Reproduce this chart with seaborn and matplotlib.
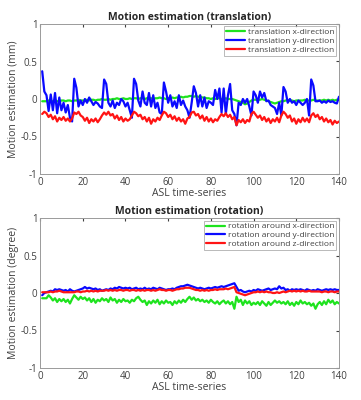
import numpy as np
import pandas as pd
import matplotlib
matplotlib.use("Agg")
import matplotlib.pyplot as plt
import seaborn as sns

# ASL time-series index
frames = list(range(1, 141))

trans_x = [
    -0.03, -0.03, -0.03, -0.02, -0.03, -0.03, -0.02, -0.03, -0.03, -0.02,
    -0.02, -0.03, -0.02, -0.02, -0.03, -0.02, -0.02, -0.01, -0.02, -0.02,
    -0.02, -0.01, -0.02, -0.01, -0.01, -0.02, -0.01, -0.01, 0.00, -0.01,
    -0.01, 0.00, -0.01, 0.00, 0.00, 0.01, 0.00, 0.00, 0.01, 0.00,
    0.00, 0.01, 0.00, 0.01, 0.01, 0.00, 0.01, 0.01, 0.00, 0.01,
    0.01, 0.01, 0.00, 0.01, 0.01, 0.02, 0.01, 0.01, 0.00, 0.01,
    0.01, 0.02, 0.01, 0.02, 0.02, 0.03, 0.02, 0.03, 0.03, 0.04,
    0.04, 0.03, 0.04, 0.03, 0.03, 0.02, 0.02, 0.01, 0.01, 0.00,
    0.01, 0.00, 0.01, 0.01, 0.00, 0.00, 0.01, 0.00, 0.00, 0.00,
    -0.01, -0.02, -0.03, -0.04, -0.05, -0.07, -0.06, -0.04, -0.02, -0.01,
    -0.01, -0.01, -0.01, 0.00, -0.01, -0.02, -0.03, -0.04, -0.05, -0.06,
    -0.05, -0.04, -0.03, -0.03, -0.02, -0.02, -0.02, -0.02, -0.03, -0.02,
    -0.02, -0.02, -0.02, -0.01, -0.02, -0.02, -0.02, -0.01, -0.02, -0.02,
    -0.02, -0.02, -0.01, -0.02, -0.01, -0.02, -0.01, -0.02, -0.01, -0.01,
]
trans_y = [
    0.37, 0.10, 0.05, -0.16, 0.06, -0.15, 0.08, -0.19, 0.02, -0.15,
    -0.05, -0.18, -0.08, -0.25, -0.30, 0.27, 0.15, -0.10, -0.02, -0.08,
    0.00, -0.05, 0.02, -0.03, -0.08, -0.04, -0.06, -0.10, -0.12, 0.26,
    0.20, -0.05, -0.10, -0.02, -0.12, -0.05, -0.08, 0.00, -0.03, -0.10,
    -0.05, -0.15, -0.25, 0.27, 0.20, -0.02, -0.10, 0.10, -0.05, -0.08,
    0.08, -0.10, 0.05, -0.12, -0.05, -0.18, -0.20, 0.22, 0.10, -0.05,
    0.05, -0.10, -0.03, -0.12, 0.05, -0.08, -0.02, -0.10, -0.15, -0.25,
    -0.05, 0.17, 0.08, -0.10, 0.05, -0.10, 0.02, -0.12, -0.03, -0.05,
    -0.08, 0.12, 0.00, 0.14, -0.18, 0.14, -0.20, 0.05, 0.20, -0.15,
    -0.20, -0.35, -0.05, -0.08, 0.00, -0.05, 0.00, -0.10, -0.22, 0.10,
    0.05, -0.05, 0.10, 0.02, 0.08, -0.03, -0.02, -0.08, -0.10, -0.12,
    -0.20, -0.05, -0.22, 0.16, 0.10, -0.05, 0.00, -0.05, -0.03, -0.08,
    -0.02, -0.05, -0.08, -0.05, 0.00, -0.22, 0.26, 0.18, -0.03, -0.03,
    -0.02, -0.05, -0.03, -0.05, -0.02, -0.04, -0.03, -0.05, -0.06, 0.03,
]
trans_z = [
    -0.20, -0.17, -0.19, -0.24, -0.21, -0.27, -0.23, -0.30, -0.25, -0.28,
    -0.24, -0.29, -0.26, -0.30, -0.26, -0.18, -0.20, -0.17, -0.22, -0.24,
    -0.29, -0.25, -0.32, -0.27, -0.30, -0.26, -0.31, -0.27, -0.22, -0.18,
    -0.21, -0.17, -0.22, -0.20, -0.26, -0.22, -0.28, -0.24, -0.30, -0.26,
    -0.29, -0.27, -0.22, -0.17, -0.19, -0.23, -0.21, -0.27, -0.24, -0.30,
    -0.25, -0.33, -0.27, -0.30, -0.25, -0.28, -0.22, -0.17, -0.19, -0.24,
    -0.21, -0.27, -0.23, -0.29, -0.25, -0.30, -0.27, -0.33, -0.26, -0.24,
    -0.18, -0.17, -0.22, -0.20, -0.26, -0.22, -0.29, -0.24, -0.30, -0.26,
    -0.31, -0.27, -0.29, -0.24, -0.20, -0.23, -0.19, -0.24, -0.21, -0.27,
    -0.24, -0.35, -0.28, -0.31, -0.27, -0.32, -0.28, -0.30, -0.20, -0.17,
    -0.21, -0.25, -0.22, -0.28, -0.24, -0.30, -0.26, -0.32, -0.27, -0.30,
    -0.25, -0.31, -0.22, -0.17, -0.20, -0.25, -0.22, -0.30, -0.26, -0.33,
    -0.27, -0.31, -0.25, -0.30, -0.26, -0.31, -0.22, -0.19, -0.24, -0.21,
    -0.27, -0.24, -0.30, -0.26, -0.31, -0.28, -0.34, -0.29, -0.32, -0.30,
]

rot_x = [
    -0.07, -0.07, -0.07, -0.03, -0.06, -0.10, -0.07, -0.12, -0.08, -0.11,
    -0.08, -0.12, -0.09, -0.14, -0.08, -0.03, -0.06, -0.09, -0.05, -0.08,
    -0.06, -0.10, -0.07, -0.12, -0.08, -0.13, -0.09, -0.11, -0.07, -0.10,
    -0.08, -0.12, -0.06, -0.10, -0.08, -0.13, -0.09, -0.12, -0.08, -0.11,
    -0.10, -0.13, -0.09, -0.11, -0.07, -0.05, -0.09, -0.12, -0.10, -0.16,
    -0.11, -0.14, -0.10, -0.13, -0.09, -0.15, -0.11, -0.14, -0.10, -0.13,
    -0.12, -0.16, -0.11, -0.14, -0.10, -0.13, -0.09, -0.12, -0.08, -0.05,
    -0.09, -0.06, -0.10, -0.08, -0.11, -0.09, -0.12, -0.10, -0.13, -0.09,
    -0.12, -0.14, -0.11, -0.15, -0.12, -0.10, -0.14, -0.11, -0.15, -0.12,
    -0.21, -0.05, -0.12, -0.09, -0.16, -0.10, -0.14, -0.11, -0.16, -0.13,
    -0.15, -0.12, -0.16, -0.11, -0.14, -0.17, -0.12, -0.16, -0.13, -0.10,
    -0.13, -0.11, -0.14, -0.12, -0.15, -0.11, -0.16, -0.13, -0.17, -0.12,
    -0.15, -0.10, -0.14, -0.12, -0.15, -0.13, -0.17, -0.14, -0.21, -0.15,
    -0.12, -0.16, -0.11, -0.15, -0.09, -0.13, -0.10, -0.15, -0.12, -0.14,
]
rot_y = [
    -0.03, 0.00, 0.01, 0.02, 0.03, 0.02, 0.05, 0.04, 0.05, 0.04,
    0.03, 0.04, 0.02, 0.05, 0.03, 0.02, 0.03, 0.04, 0.05, 0.06,
    0.08, 0.06, 0.07, 0.06, 0.05, 0.06, 0.04, 0.05, 0.03, 0.04,
    0.05, 0.04, 0.06, 0.05, 0.07, 0.06, 0.08, 0.07, 0.06, 0.07,
    0.06, 0.07, 0.05, 0.06, 0.07, 0.05, 0.06, 0.05, 0.07, 0.05,
    0.06, 0.05, 0.07, 0.06, 0.05, 0.07, 0.06, 0.05, 0.04, 0.05,
    0.05, 0.06, 0.05, 0.07, 0.08, 0.09, 0.09, 0.10, 0.11, 0.10,
    0.09, 0.08, 0.07, 0.06, 0.07, 0.06, 0.05, 0.06, 0.07, 0.06,
    0.07, 0.08, 0.07, 0.08, 0.09, 0.08, 0.09, 0.10, 0.11, 0.12,
    0.13, 0.08, 0.03, 0.04, 0.02, 0.01, 0.02, 0.03, 0.02, 0.04,
    0.03, 0.05, 0.04, 0.03, 0.04, 0.05, 0.06, 0.04, 0.05, 0.06,
    0.05, 0.09, 0.06, 0.07, 0.04, 0.05, 0.03, 0.05, 0.04, 0.05,
    0.04, 0.05, 0.04, 0.03, 0.05, 0.04, 0.03, 0.04, 0.03, 0.05,
    0.04, 0.03, 0.04, 0.05, 0.04, 0.05, 0.04, 0.05, 0.04, 0.04,
]
rot_z = [
    0.01, 0.01, 0.01, 0.01, 0.02, 0.01, 0.02, 0.02, 0.03, 0.02,
    0.01, 0.01, 0.01, 0.01, 0.01, 0.01, 0.02, 0.02, 0.01, 0.02,
    0.02, 0.03, 0.02, 0.03, 0.02, 0.03, 0.02, 0.03, 0.03, 0.03,
    0.04, 0.03, 0.04, 0.03, 0.04, 0.03, 0.04, 0.04, 0.03, 0.04,
    0.04, 0.03, 0.04, 0.04, 0.03, 0.04, 0.03, 0.04, 0.03, 0.04,
    0.04, 0.03, 0.04, 0.03, 0.04, 0.05, 0.04, 0.04, 0.03, 0.04,
    0.04, 0.03, 0.04, 0.05, 0.05, 0.06, 0.06, 0.07, 0.07, 0.07,
    0.06, 0.05, 0.04, 0.04, 0.03, 0.04, 0.03, 0.04, 0.03, 0.04,
    0.04, 0.05, 0.04, 0.05, 0.05, 0.05, 0.06, 0.05, 0.06, 0.07,
    0.08, 0.01, 0.00, -0.01, -0.02, -0.03, -0.02, -0.01, 0.00, 0.01,
    0.01, 0.02, 0.01, 0.02, 0.01, 0.02, 0.01, 0.01, 0.00, 0.00,
    0.01, 0.00, 0.01, 0.02, 0.01, 0.02, 0.03, 0.02, 0.03, 0.02,
    0.03, 0.02, 0.03, 0.02, 0.02, 0.03, 0.02, 0.02, 0.02, 0.02,
    0.02, 0.01, 0.02, 0.02, 0.01, 0.02, 0.02, 0.01, 0.02, 0.02,
]

trans_labels = ["translation x-direction", "translation y-direction", "translation z-direction"]
rot_labels = ["rotation around x-direction", "rotation around y-direction", "rotation around z-direction"]
colors = ["#1ee31e", "#0a0aff", "#ff1414"]

sns.set_style("white")
plt.rcParams["font.family"] = ["Open Sans", "DejaVu Sans"]

def long_df(series, labels):
    parts = []
    for vals, lab in zip(series, labels):
        parts.append(pd.DataFrame({"frame": frames, "value": vals, "series": lab}))
    return pd.concat(parts, ignore_index=True)

df_t = long_df([trans_x, trans_y, trans_z], trans_labels)
df_r = long_df([rot_x, rot_y, rot_z], rot_labels)

fig = plt.figure(figsize=(3.61, 4.0), dpi=100)
ax1 = fig.add_axes([0.111, 0.565, 0.828, 0.375])
ax2 = fig.add_axes([0.111, 0.08, 0.828, 0.375])

panels = [
    (ax1, df_t, trans_labels, "Motion estimation (translation)", "Motion estimation (mm)"),
    (ax2, df_r, rot_labels, "Motion estimation (rotation)", "Motion estimation (degree)"),
]

for ax, df, labels, title, ylabel in panels:
    sns.lineplot(data=df, x="frame", y="value", hue="series", hue_order=labels,
                 palette=colors, linewidth=1.6, ax=ax)
    ax.set_xlim(0, 140)
    ax.set_ylim(-1, 1)
    ax.set_xticks(range(0, 141, 20))
    ax.set_yticks([-1, -0.5, 0, 0.5, 1])
    ax.set_yticklabels(["-1", "-0.5", "0", "0.5", "1"])
    ax.tick_params(direction="in", length=2.5, labelsize=7, colors="#404040",
                   top=True, right=True, pad=2)
    for s in ax.spines.values():
        s.set_color("#9a9a9a")
        s.set_linewidth(0.7)
    ax.set_title(title, fontsize=7.5, fontweight="bold", pad=3)
    ax.set_xlabel("ASL time-series", fontsize=7.5, color="#404040", labelpad=0)
    ax.set_ylabel(ylabel, fontsize=7.5, color="#404040", labelpad=1)
    leg = ax.legend(loc="upper right", fontsize=6, frameon=True, fancybox=False,
                    handlelength=2.2, borderpad=0.25, labelspacing=0.1,
                    handletextpad=0.4, borderaxespad=0.3)
    leg.get_frame().set_edgecolor("#9a9a9a")
    leg.get_frame().set_linewidth(0.6)
    for t in leg.get_texts():
        t.set_color("#404040")

fig.savefig("out.png", dpi=100)
